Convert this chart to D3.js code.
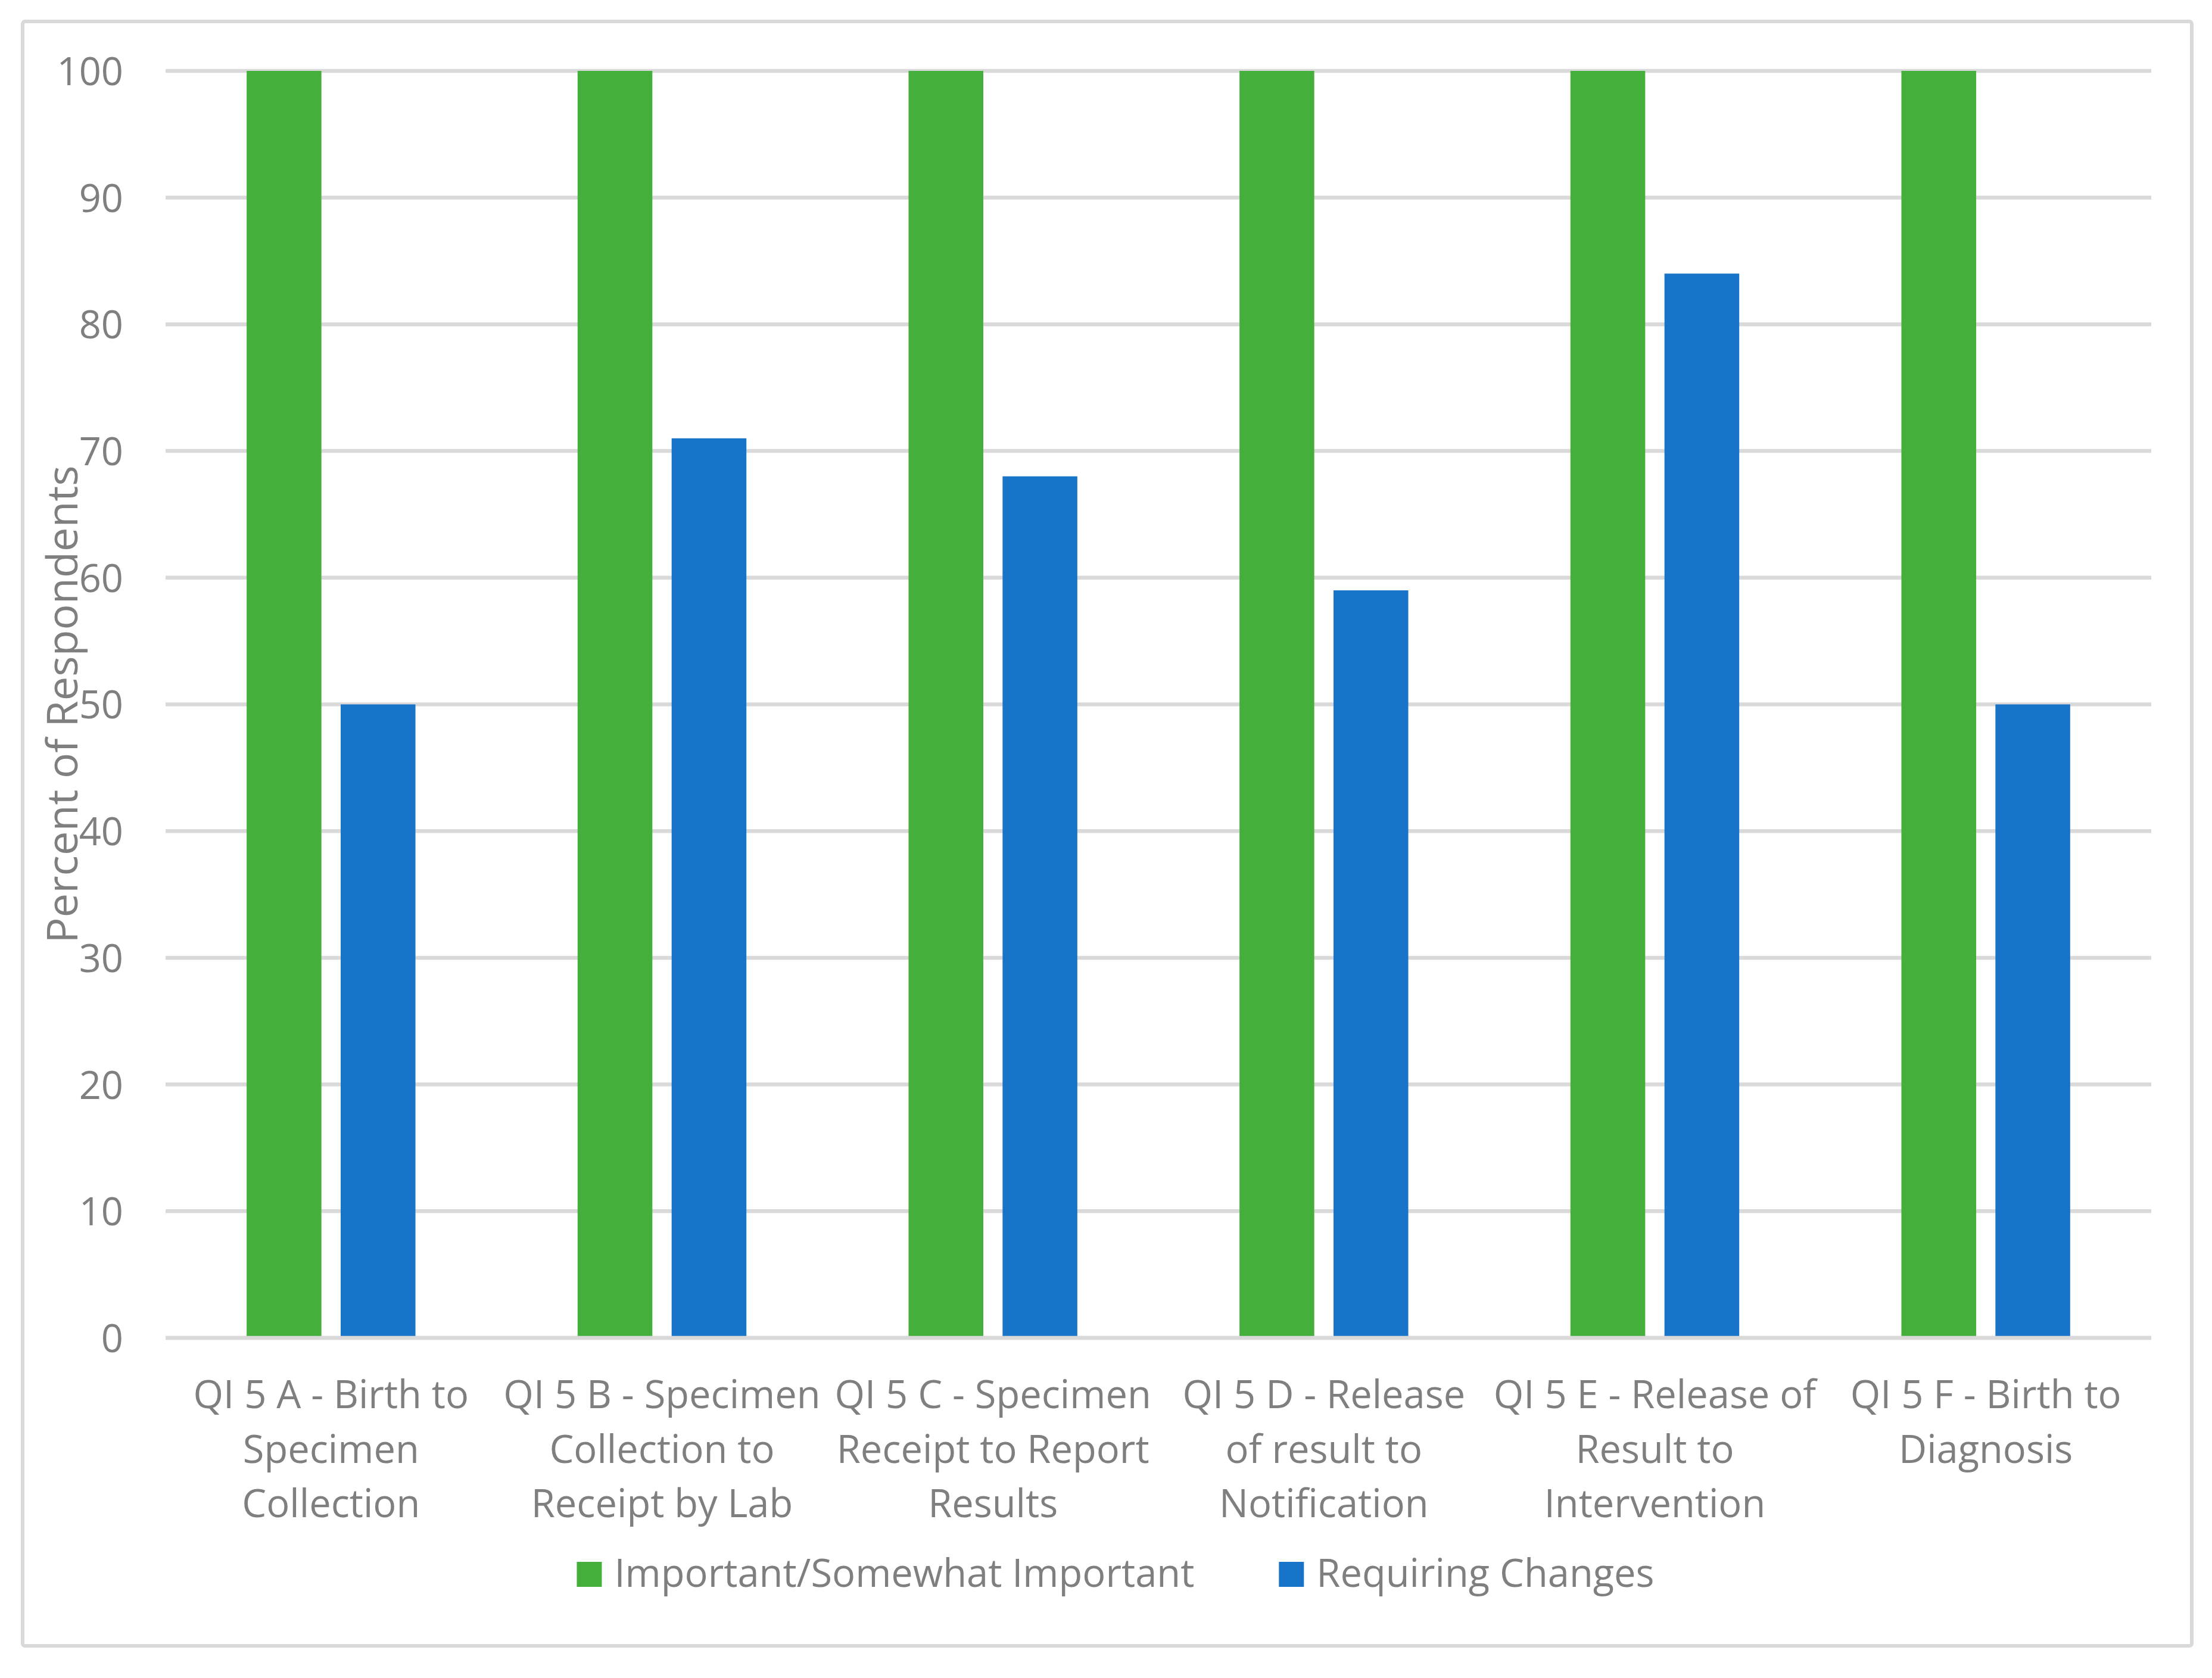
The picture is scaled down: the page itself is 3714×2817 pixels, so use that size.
<!DOCTYPE html>
<html>
<head>
<meta charset="utf-8">
<script src="https://cdn.jsdelivr.net/npm/d3@7"></script>
<style>
    body { margin: 0; background: #fff; }
    text { font-family: "Open Sans", "Noto Sans", sans-serif; fill: #7f7f7f; }
</style>
</head>
<body>
<div id="chart"></div>
<script>
const categories = ["A", "B", "C", "D", "E", "F"];
const categoryLines = [
    ["QI 5 A - Birth to", "Specimen", "Collection"],
    ["QI 5 B - Specimen", "Collection to", "Receipt by Lab"],
    ["QI 5 C - Specimen", "Receipt to Report", "Results"],
    ["QI 5 D - Release", "of result to", "Notification"],
    ["QI 5 E - Release of", "Result to", "Intervention"],
    ["QI 5 F - Birth to", "Diagnosis"]
];
const seriesNames = ["Important/Somewhat Important", "Requiring Changes"];
const importantValues = [100, 100, 100, 100, 100, 100];
const changesValues = [50, 71, 68, 59, 84, 50];
const yTicks = [0, 10, 20, 30, 40, 50, 60, 70, 80, 90, 100];
const yTitle = "Percent of Respondents";

const colors = ["#45af3c", "#1874c9"];
const width = 3714;
const height = 2817;
const margin = { top: 119, right: 102, bottom: 571, left: 278 };
const labelSize = "65px";

const svg = d3.select("#chart")
    .append("svg")
    .attr("width", width)
    .attr("height", height);

// chart area border
svg.append("rect")
    .attr("x", 38)
    .attr("y", 36)
    .attr("width", 3642)
    .attr("height", 2727)
    .attr("rx", 4)
    .attr("fill", "#fff")
    .attr("stroke", "#d9d9d9")
    .attr("stroke-width", 6);

const x0 = d3.scaleBand()
    .domain(categories)
    .range([margin.left, width - margin.right])
    .padding(0);

const x1 = d3.scaleBand()
    .domain([0, 1])
    .range([x0.bandwidth() * 0.245, x0.bandwidth() * 0.755])
    .paddingInner(0.205);

const y = d3.scaleLinear()
    .domain([0, 100])
    .range([height - margin.bottom, margin.top]);

// gridlines
svg.append("g")
    .selectAll("line")
    .data(yTicks)
    .enter().append("line")
    .attr("x1", margin.left)
    .attr("x2", width - margin.right)
    .attr("y1", d => y(d))
    .attr("y2", d => y(d))
    .attr("stroke", "#d9d9d9")
    .attr("stroke-width", 6.5);

// y axis labels
const yAxis = svg.append("g")
    .attr("transform", `translate(${margin.left},0)`)
    .call(d3.axisLeft(y).tickValues(yTicks).tickSize(0).tickPadding(71));
yAxis.select(".domain").remove();
yAxis.selectAll("text")
    .attr("font-family", null)
    .style("font-size", labelSize)
    .attr("dy", "0.36em");

// bars
const groups = svg.append("g")
    .selectAll("g")
    .data(categories.map((c, i) => ({ cat: c, values: [importantValues[i], changesValues[i]] })))
    .enter().append("g")
    .attr("transform", d => `translate(${x0(d.cat)},0)`);

groups.selectAll("rect")
    .data(d => d.values.map((v, s) => ({ s, v })))
    .enter().append("rect")
    .attr("x", d => x1(d.s))
    .attr("width", x1.bandwidth())
    .attr("y", d => y(d.v))
    .attr("height", d => y(0) - y(d.v))
    .attr("fill", d => colors[d.s]);

// x axis line over the bars
svg.append("line")
    .attr("x1", margin.left)
    .attr("x2", width - margin.right)
    .attr("y1", y(0))
    .attr("y2", y(0))
    .attr("stroke", "#d9d9d9")
    .attr("stroke-width", 6.5);

// category labels
const xLabels = svg.append("g")
    .selectAll("text")
    .data(categories)
    .enter().append("text")
    .attr("text-anchor", "middle")
    .style("font-size", labelSize)
    .attr("x", d => x0(d) + x0.bandwidth() / 2)
    .attr("y", 2364);

xLabels.selectAll("tspan")
    .data((d, i) => categoryLines[i])
    .enter().append("tspan")
    .attr("x", function () { return d3.select(this.parentNode).attr("x"); })
    .attr("dy", (d, i) => i === 0 ? 0 : 91.5)
    .text(d => d);

// y axis title
svg.append("text")
    .attr("transform", `translate(130,${(y(0) + y(100)) / 2}) rotate(-90)`)
    .attr("text-anchor", "middle")
    .style("font-size", "72px")
    .text(yTitle);

// legend
const legend = svg.append("g");
const items = legend.selectAll("g")
    .data(seriesNames)
    .enter().append("g");

items.append("rect")
    .attr("width", 42)
    .attr("height", 42)
    .attr("y", 2622)
    .attr("fill", (d, i) => colors[i]);

items.append("text")
    .attr("x", 63)
    .attr("y", 2664)
    .style("font-size", labelSize)
    .text(d => d);

let offset = 0;
const itemWidths = [];
items.each(function () {
    itemWidths.push(63 + d3.select(this).select("text").node().getComputedTextLength());
});
const legendWidth = d3.sum(itemWidths) + 142 * (itemWidths.length - 1);
let start = 1873 - legendWidth / 2;
items.attr("transform", (d, i) => {
    const tx = start + offset;
    offset += itemWidths[i] + 142;
    return `translate(${tx},0)`;
});
</script>
</body>
</html>
